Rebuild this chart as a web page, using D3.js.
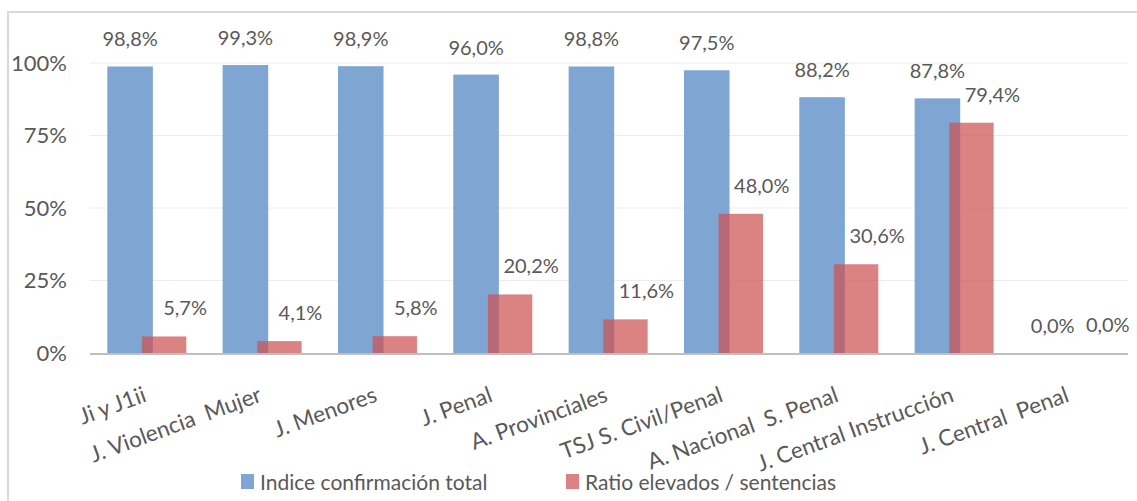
<!DOCTYPE html>
<html>
<head>
<meta charset="utf-8">
<script src="https://cdn.jsdelivr.net/npm/d3@7"></script>
<style>
  body { margin: 0; background: #fff; }
  svg text { font-family: Lato, "Open Sans", sans-serif; fill: #595959; white-space: pre; }
</style>
</head>
<body>
<div id="chart"></div>
<script>
// chart data
var categories = ["Ji y J1ii", "J. Violencia  Mujer", "J. Menores", "J. Penal", "A. Provinciales",
                  "TSJ S. Civil/Penal", "A. Nacional  S. Penal", "J. Central Instrucción", "J. Central  Penal"];
var confirmacion = [98.8, 99.3, 98.9, 96.0, 98.8, 97.5, 88.2, 87.8, 0.0];
var ratio = [5.7, 4.1, 5.8, 20.2, 11.6, 48.0, 30.6, 79.4, 0.0];
var seriesNames = ["Indice confirmación total", "Ratio elevados / sentencias"];
var yTicks = [0, 25, 50, 75, 100];

var W = 1137, H = 501;
var blue = "#7fa6d2";
var red = "rgba(205,82,82,0.72)";

var svg = d3.select("#chart").append("svg")
  .attr("width", W)
  .attr("height", H);

// outer frame
svg.append("rect")
  .attr("x", 8).attr("y", 12)
  .attr("width", W).attr("height", H)
  .attr("fill", "none")
  .attr("stroke", "#d9d9d9")
  .attr("stroke-width", 2);

var x = d3.scaleBand().domain(categories).range([90, 1128]);
var y = d3.scaleLinear().domain([0, 100]).range([353, 63]);
var bw = x.bandwidth();
var fmt = function(v) { return v.toFixed(1).replace(".", ",") + "%"; };

// gridlines
svg.selectAll("line.grid")
  .data(yTicks.filter(function(d) { return d > 0; }))
  .enter().append("line")
  .attr("x1", 90).attr("x2", 1128)
  .attr("y1", function(d) { return y(d); })
  .attr("y2", function(d) { return y(d); })
  .attr("stroke", "#ececec")
  .attr("stroke-width", 1);

// y tick labels
svg.selectAll("text.ytick")
  .data(yTicks)
  .enter().append("text")
  .attr("x", 67)
  .attr("y", function(d) { return y(d); })
  .attr("dy", "0.36em")
  .attr("text-anchor", "end")
  .attr("font-size", "22px")
  .text(function(d) { return d + "%"; });

// blue bars
svg.selectAll("rect.conf")
  .data(confirmacion)
  .enter().append("rect")
  .attr("x", function(d, i) { return x(categories[i]) + bw * 0.15; })
  .attr("y", function(d) { return y(d); })
  .attr("width", bw * 0.395)
  .attr("height", function(d) { return y(0) - y(d); })
  .attr("fill", blue);

// red bars (semi transparent, overlapping)
svg.selectAll("rect.ratio")
  .data(ratio)
  .enter().append("rect")
  .attr("x", function(d, i) { return x(categories[i]) + bw * 0.45; })
  .attr("y", function(d) { return y(d); })
  .attr("width", bw * 0.385)
  .attr("height", function(d) { return y(0) - y(d); })
  .attr("fill", red);

// x axis line
svg.append("line")
  .attr("x1", 90).attr("x2", 1128)
  .attr("y1", y(0) + 1).attr("y2", y(0) + 1)
  .attr("stroke", "#bfbfbf")
  .attr("stroke-width", 2);

// value labels
svg.selectAll("text.vconf")
  .data(confirmacion)
  .enter().append("text")
  .attr("x", function(d, i) { return x(categories[i]) + bw * 0.15 + bw * 0.395 / 2; })
  .attr("y", function(d) { return y(d) - 20; })
  .attr("text-anchor", "middle")
  .attr("font-size", "20px")
  .text(fmt);

svg.selectAll("text.vratio")
  .data(ratio)
  .enter().append("text")
  .attr("x", function(d, i) { return x(categories[i]) + bw * 0.45 + bw * 0.385 / 2 + 21; })
  .attr("y", function(d) { return y(d) - 21; })
  .attr("text-anchor", "middle")
  .attr("font-size", "20px")
  .text(fmt);

// category labels, rotated
svg.selectAll("text.cat")
  .data(categories)
  .enter().append("text")
  .attr("transform", function(d) {
    var cx = x(d) + bw / 2;
    return "translate(" + cx + ",401) rotate(-20)";
  })
  .attr("text-anchor", "end")
  .attr("font-size", "22.5px")
  .text(function(d) { return d; });

// legend
var legend = [
  {name: seriesNames[0], color: blue, x: 241},
  {name: seriesNames[1], color: red, x: 566}
];
var lg = svg.selectAll("g.legend")
  .data(legend)
  .enter().append("g")
  .attr("transform", function(d) { return "translate(" + d.x + ",474)"; });
lg.append("rect")
  .attr("width", 13).attr("height", 15)
  .attr("fill", function(d) { return d.color; });
lg.append("text")
  .attr("x", 19).attr("y", 8)
  .attr("dy", "0.36em")
  .attr("font-size", "21px")
  .text(function(d) { return d.name; });
</script>
</body>
</html>
